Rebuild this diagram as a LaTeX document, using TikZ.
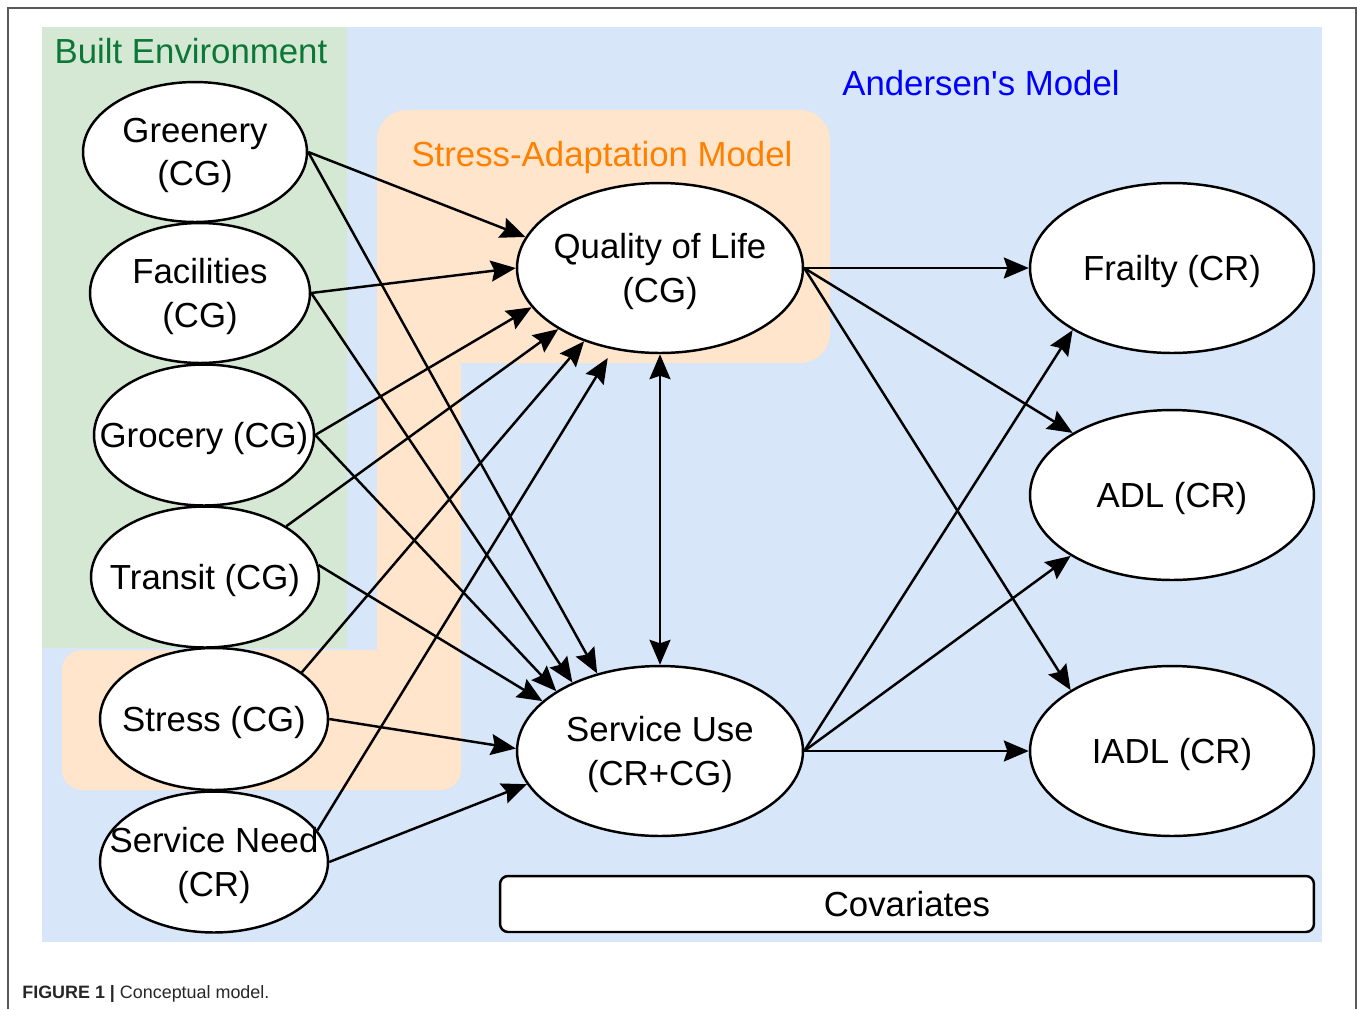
\documentclass[tikz,border=0pt]{standalone}
\usepackage{fontspec}
\setmainfont{Liberation Sans}
\usetikzlibrary{shapes.geometric,arrows.meta}
\definecolor{andblue}{RGB}{215,230,248}
\definecolor{envgreen}{RGB}{213,232,212}
\definecolor{adaptorange}{RGB}{255,229,203}
\definecolor{envtext}{RGB}{12,120,56}
\definecolor{adapttext}{RGB}{255,128,0}
\newcommand{\nb}[1]{\makebox[0pt]{\raisebox{-0.07cm}[\height][\depth]{#1}}}

\begin{document}
\begin{tikzpicture}[x=0.02cm,y=-0.02cm,
  oval/.style={draw, ellipse, fill=white, line width=1.4pt, inner sep=0pt, align=center,
    font=\fontsize{19.8}{24.5}\selectfont},
  conn/.style={line width=1.4pt, -{Stealth[length=0.5cm,width=0.42cm,inset=0.07cm]}},
  boxlabel/.style={font=\fontsize{19.8}{24.5}\selectfont, inner sep=0pt}]
\useasboundingbox (0,0) rectangle (1357,1009);

% regions
\fill[andblue] (42,27) rectangle (1322,942);
\fill[envgreen] (42,27) rectangle (347,648);
\fill[adaptorange, rounded corners=0.6cm] (377,110) rectangle (830,363);
\fill[adaptorange] (377,330) rectangle (461,700);
\fill[adaptorange, rounded corners=0.4cm] (62,650) rectangle (461,790);
\draw[black!65, line width=1pt] (8,1009) -- (8,8) -- (1356,8) -- (1356,1009);

\node[boxlabel, text=envtext] (envlab) at (191,51) {Built Environment};
\node[boxlabel, text=blue] (andlab) at (981,83) {Andersen\textquotesingle s Model};
\node[boxlabel, text=adapttext] (adaptlab) at (602,157) {Stress-Adaptation Model};

% left column
\node[oval, minimum width=4.48cm, minimum height=2.8cm] (gre) at (195,152) {\nb{Greenery}\\\nb{(CG)}};
\node[oval, minimum width=4.4cm, minimum height=2.8cm] (fac) at (200,293) {\nb{Facilities}\\\nb{(CG)}};
\node[oval, minimum width=4.4cm, minimum height=2.82cm] (gro) at (204,435) {\nb{Grocery (CG)}};
\node[oval, minimum width=4.56cm, minimum height=2.82cm] (tra) at (205,577) {\nb{Transit (CG)}};
\node[oval, minimum width=4.56cm, minimum height=2.84cm] (str) at (214,719) {\nb{Stress (CG)}};
\node[oval, minimum width=4.56cm, minimum height=2.82cm] (need) at (214,862) {\nb{Service Need}\\\nb{(CR)}};

% middle
\node[oval, minimum width=5.72cm, minimum height=3.4cm] (qol) at (660,268) {\nb{Quality of Life}\\\nb{(CG)}};
\node[oval, minimum width=5.72cm, minimum height=3.4cm] (use) at (660,751) {\nb{Service Use}\\\nb{(CR+CG)}};

% outcomes
\node[oval, minimum width=5.68cm, minimum height=3.4cm] (fra) at (1172,268) {\nb{Frailty (CR)}};
\node[oval, minimum width=5.68cm, minimum height=3.4cm] (adl) at (1172,495) {\nb{ADL (CR)}};
\node[oval, minimum width=5.68cm, minimum height=3.4cm] (iadl) at (1172,751) {\nb{IADL (CR)}};

\node[draw, fill=white, rounded corners=0.16cm, line width=1.4pt, minimum width=16.28cm,
  minimum height=1.12cm, font=\fontsize{19.8}{24.5}\selectfont] (cov) at (907,904) {Covariates};

\node[anchor=base west, inner sep=0pt, text=black!85, font=\fontsize{10.2}{12}\selectfont]
  (cap) at (22,998) {\textbf{FIGURE 1 |} Conceptual model.};

\path[conn]
(gre.east) edge (qol.167)
(gre.east) edge (use.129)
(fac.east) edge (qol.west)
(fac.east) edge (use.142)
(gro.east) edge (qol.197)
(gro.east) edge (use.150)
(tra.32) edge (qol.211)
(tra.6) edge (use.157)
(str.28) edge (qol.224)
(str.east) edge (use.179)
(need.17) edge[shorten >=0.2cm] (qol.240)
(need.east) edge (use.194)
(qol.east) edge (fra.west)
(qol.east) edge (adl.148)
(qol.east) edge (iadl.149)
(use.east) edge (fra.212)
(use.east) edge (adl.211)
(use.east) edge (iadl.west);
\draw[line width=1.4pt, {Stealth[length=0.5cm,width=0.42cm,inset=0.07cm]}-{Stealth[length=0.5cm,width=0.42cm,inset=0.07cm]}]
  (qol) -- (use);
\end{tikzpicture}
\end{document}
